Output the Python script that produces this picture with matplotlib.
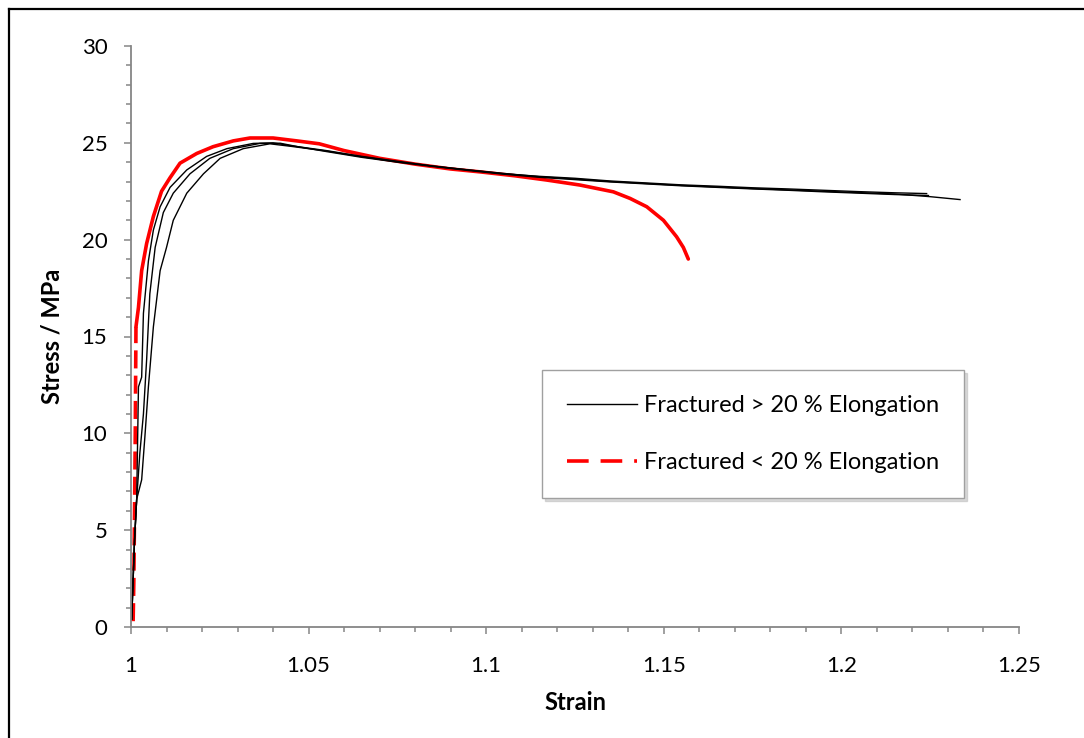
import numpy as np
import matplotlib.pyplot as plt
from matplotlib.lines import Line2D

plt.rcParams['font.family'] = ['Lato', 'DejaVu Sans']

# Black curves: specimens fractured above 20 % elongation
strain_a = [1.0002, 1.0010, 1.0016, 1.0021, 1.0030, 1.0035, 1.0049, 1.0063, 1.0082,
            1.0110, 1.0157, 1.0213, 1.0270, 1.0344, 1.0400, 1.0450, 1.0550, 1.0650,
            1.0750, 1.0850, 1.0950, 1.1050, 1.1150, 1.1250, 1.1350, 1.1450, 1.1550,
            1.1650, 1.1750, 1.1850, 1.1950, 1.2050, 1.2150, 1.2240]
stress_a = [0.4, 4.5, 6.6, 12.4, 12.9, 16.2, 18.9, 20.5, 21.7,
            22.7, 23.6, 24.3, 24.7, 24.97, 25.0, 24.85, 24.6, 24.3,
            24.05, 23.8, 23.6, 23.4, 23.27, 23.17, 23.03, 22.93, 22.83,
            22.76, 22.68, 22.62, 22.55, 22.48, 22.42, 22.38]

strain_b = [1.0002, 1.0010, 1.0016, 1.0025, 1.0035, 1.0044, 1.0053, 1.0068, 1.0091,
            1.0119, 1.0166, 1.0222, 1.0288, 1.0363, 1.0420, 1.0470, 1.0550, 1.0650,
            1.0750, 1.0850, 1.0950, 1.1050, 1.1150, 1.1250, 1.1350, 1.1450, 1.1550,
            1.1650, 1.1750, 1.1850, 1.1950, 1.2050, 1.2150, 1.2245]
stress_b = [0.4, 4.5, 6.6, 9.0, 11.0, 13.8, 17.2, 19.6, 21.4,
            22.4, 23.4, 24.2, 24.7, 24.97, 24.98, 24.8, 24.55, 24.25,
            24.0, 23.78, 23.57, 23.38, 23.22, 23.1, 22.98, 22.88, 22.78,
            22.7, 22.62, 22.55, 22.47, 22.4, 22.33, 22.28]

strain_c = [1.0002, 1.0010, 1.0016, 1.0030, 1.0039, 1.0049, 1.0063, 1.0082, 1.0100,
            1.0119, 1.0157, 1.0204, 1.0251, 1.0316, 1.0391, 1.0450, 1.0550, 1.0650,
            1.0750, 1.0850, 1.0950, 1.1050, 1.1150, 1.1250, 1.1350, 1.1450, 1.1550,
            1.1650, 1.1750, 1.1850, 1.1950, 1.2050, 1.2150, 1.2250, 1.2334]
stress_c = [0.4, 4.5, 6.6, 7.6, 9.8, 12.4, 15.5, 18.4, 19.6,
            21.0, 22.4, 23.4, 24.2, 24.7, 24.95, 24.82, 24.58, 24.28,
            24.02, 23.8, 23.6, 23.42, 23.25, 23.13, 23.0, 22.9, 22.8,
            22.72, 22.64, 22.57, 22.5, 22.43, 22.36, 22.22, 22.07]

# Red curve: specimen fractured below 20 % elongation
strain_r = [1.0006, 1.0008, 1.0010, 1.0012, 1.0014, 1.0021, 1.0030, 1.0035, 1.0044,
            1.0063, 1.0086, 1.0110, 1.0138, 1.0185, 1.0231, 1.0288, 1.0335, 1.0400,
            1.0467, 1.0530, 1.0600, 1.0700, 1.0800, 1.0900, 1.0983, 1.1080, 1.1170,
            1.1264, 1.1358, 1.1405, 1.1452, 1.1499, 1.1536, 1.1555, 1.1569]
stress_r = [0.3, 2.4, 6.0, 10.0, 15.5, 16.5, 18.4, 18.9, 19.8,
            21.2, 22.5, 23.2, 23.95, 24.45, 24.8, 25.1, 25.25, 25.25,
            25.1, 24.95, 24.6, 24.2, 23.9, 23.65, 23.5, 23.3, 23.08,
            22.82, 22.47, 22.13, 21.7, 21.0, 20.15, 19.6, 19.0]
n_dash = 5  # steep first part shows as dashes

fig = plt.figure(figsize=(10.84, 7.38), dpi=100)
ax = fig.add_axes([131 / 1084, 1 - 627 / 738, 888 / 1084, 581 / 738])

red = '#ff0000'
ax.plot(strain_r[:n_dash], stress_r[:n_dash], color=red, lw=2.6, ls=(0, (5, 2)))
ax.plot(strain_r[n_dash - 1:], stress_r[n_dash - 1:], color=red, lw=2.6,
        solid_capstyle='round', solid_joinstyle='round')
for sx, sy in [(strain_a, stress_a), (strain_b, stress_b), (strain_c, stress_c)]:
    ax.plot(sx, sy, color='black', lw=1.0)

ax.set_xlim(1, 1.25)
ax.set_ylim(0, 30)
ax.set_xticks([1, 1.05, 1.1, 1.15, 1.2, 1.25])
ax.set_xticklabels(['1', '1.05', '1.1', '1.15', '1.2', '1.25'])
ax.set_xticks(np.arange(1, 1.2501, 0.01), minor=True)
ax.set_yticks(range(0, 31, 5))
ax.set_yticks(range(0, 31), minor=True)

gray = '#868686'
for side in ['top', 'right']:
    ax.spines[side].set_visible(False)
for side in ['left', 'bottom']:
    ax.spines[side].set_color(gray)
    ax.spines[side].set_linewidth(1.3)
ax.tick_params(which='major', length=5, width=1.1, color=gray, labelsize=16)
ax.tick_params(which='minor', length=3.5, width=1.1, color=gray)
ax.tick_params(axis='x', which='major', pad=16)
ax.tick_params(axis='y', which='major', pad=12)

ax.set_xlabel('Strain', fontsize=17, fontweight='bold', labelpad=11)
ax.set_ylabel('Stress / MPa', fontsize=17, fontweight='bold', labelpad=13)

handles = [Line2D([], [], color='black', lw=1.0),
           Line2D([], [], color=red, lw=2.6, ls=(0, (6, 3.3)))]
leg = ax.legend(handles, ['Fractured > 20 % Elongation', 'Fractured < 20 % Elongation'],
                loc='center', bbox_to_anchor=(0.7005, 0.332), fontsize=17,
                handlelength=3.0, handletextpad=0.3, labelspacing=1.55,
                borderpad=1.05, fancybox=False, frameon=True,
                shadow={'color': '0.75', 'alpha': 0.6})
leg.get_frame().set_edgecolor('#a0a0a0')
leg.get_frame().set_linewidth(1.0)

# outer chart border (top and left edges visible)
fig.add_artist(Line2D([9 / 1084, 9 / 1084], [0, 1 - 9 / 738], color='black', lw=1.6,
                      transform=fig.transFigure))
fig.add_artist(Line2D([9 / 1084, 1], [1 - 9 / 738, 1 - 9 / 738], color='black', lw=1.6,
                      transform=fig.transFigure))

fig.savefig('out.png', dpi=100)
